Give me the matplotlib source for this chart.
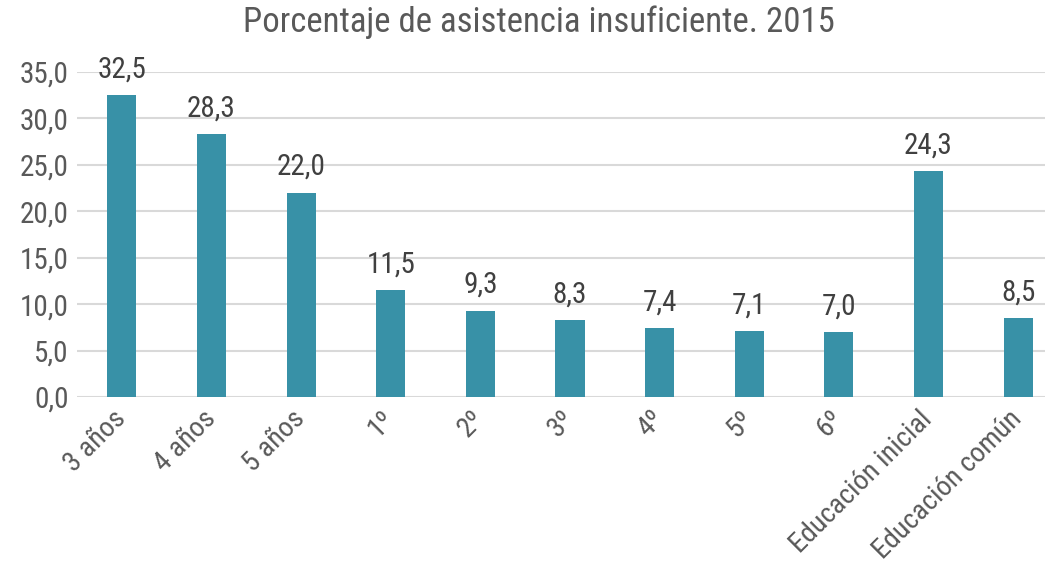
#!/usr/bin/env python3
"""Porcentaje de asistencia insuficiente, 2015 -- bar chart."""

import matplotlib
matplotlib.use("Agg")
import matplotlib.pyplot as plt
import numpy as np
from matplotlib import font_manager

CATEGORIES = ["3 años", "4 años", "5 años", "1º", "2º", "3º", "4º", "5º", "6º",
              "Educación inicial", "Educación común"]
VALUES = [32.5, 28.3, 22.0, 11.5, 9.3, 8.3, 7.4, 7.1, 7.0, 24.3, 8.5]
YTICKS = [0, 5, 10, 15, 20, 25, 30, 35]
TITLE = "Porcentaje de asistencia insuficiente. 2015"

BAR_COLOR = "#3891A7"
GRID_COLOR = "#D9D9D9"
TEXT_COLOR = "#595959"
LABEL_COLOR = "#404040"

# condensed sans, first one that is installed
PREFERRED = ["Roboto Condensed", "Liberation Sans Narrow", "Open Sans Condensed", "Archivo Narrow"]
installed = {f.name for f in font_manager.fontManager.ttflist}
family = [n for n in PREFERRED if n in installed][:1] + ["DejaVu Sans"]
plt.rcParams["font.family"] = family
plt.rcParams["font.weight"] = "normal"


def fmt(v: float) -> str:
    return f"{v:.1f}".replace(".", ",")


def main() -> None:
    fig = plt.figure(figsize=(10.45, 5.63), dpi=100)
    ax = fig.add_axes([0.0737, 0.2948, 0.9263, 0.5773])

    x = np.arange(len(CATEGORIES))
    ax.bar(x, VALUES, width=0.325, color=BAR_COLOR, zorder=3)

    for xi, v in zip(x, VALUES):
        ax.annotate(fmt(v), (xi, v), xytext=(0, 8.5), textcoords="offset points",
                    ha="center", va="bottom", fontsize=21, color=LABEL_COLOR)

    ax.set_xlim(-0.5, 10.3)
    ax.set_ylim(0, 35)
    ax.set_yticks(YTICKS)
    ax.set_yticklabels([fmt(t) for t in YTICKS], fontsize=21, color=TEXT_COLOR)
    ax.set_xticks(x)
    ax.set_xticklabels(CATEGORIES, rotation=45, ha="right", va="center",
                       rotation_mode="anchor", fontsize=20.3, color=TEXT_COLOR)
    ax.tick_params(axis="both", length=0)
    ax.tick_params(axis="y", pad=6)
    ax.tick_params(axis="x", pad=13)

    ax.grid(axis="y", color=GRID_COLOR, lw=1.5, zorder=0)
    for spine in ax.spines.values():
        spine.set_visible(False)

    fig.text(0.516, 0.96, TITLE, ha="center", va="center", fontsize=25, color=TEXT_COLOR)

    fig.savefig("out.png", dpi=100)
    plt.close(fig)


if __name__ == "__main__":
    main()
